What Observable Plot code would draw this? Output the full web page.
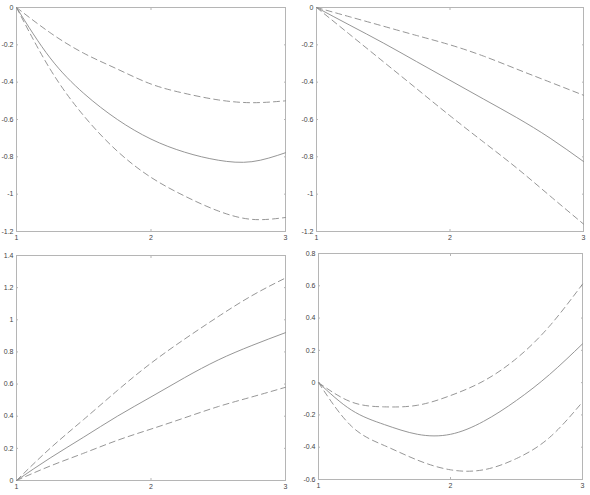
<!DOCTYPE html>
<html>
<head>
<meta charset="utf-8">
<script src="https://cdn.jsdelivr.net/npm/d3@7"></script>
<script src="https://cdn.jsdelivr.net/npm/@observablehq/plot@0.6"></script>
<style>
  html, body { margin: 0; padding: 0; background: #fff; }
  #wrap { position: relative; width: 590px; height: 495px; font-family: "Liberation Sans", Arial, sans-serif; }
  .panel { position: absolute; }
</style>
</head>
<body>
<div id="wrap"></div>
<script>
// x sample positions (shared by all panels)
const xs = [1, 1.25, 1.5, 1.75, 2, 2.25, 2.5, 2.75, 3];
const xTicks = [1, 2, 3];

// Panel 1 (top-left)
const p1Solid = [0, -0.27, -0.46, -0.60, -0.705, -0.775, -0.818, -0.826, -0.778];
const p1Upper = [0, -0.135, -0.245, -0.33, -0.41, -0.46, -0.495, -0.51, -0.50];
const p1Lower = [0, -0.33, -0.58, -0.77, -0.91, -1.01, -1.09, -1.135, -1.125];
const p1YTicks = [-1.2, -1, -0.8, -0.6, -0.4, -0.2, 0];

// Panel 2 (top-right)
const p2Solid = [0, -0.095, -0.19, -0.29, -0.39, -0.49, -0.59, -0.70, -0.825];
const p2Upper = [0, -0.05, -0.10, -0.15, -0.20, -0.26, -0.33, -0.40, -0.47];
const p2Lower = [0, -0.145, -0.29, -0.435, -0.58, -0.72, -0.86, -1.01, -1.16];
const p2YTicks = [-1.2, -1, -0.8, -0.6, -0.4, -0.2, 0];

// Panel 3 (bottom-left)
const p3Solid = [0, 0.14, 0.27, 0.40, 0.52, 0.64, 0.75, 0.84, 0.92];
const p3Upper = [0, 0.20, 0.38, 0.56, 0.73, 0.88, 1.02, 1.15, 1.26];
const p3Lower = [0, 0.09, 0.17, 0.25, 0.32, 0.39, 0.46, 0.52, 0.58];
const p3YTicks = [0, 0.2, 0.4, 0.6, 0.8, 1, 1.2, 1.4];

// Panel 4 (bottom-right)
const p4Solid = [0, -0.17, -0.26, -0.32, -0.32, -0.24, -0.11, 0.05, 0.24];
const p4Upper = [0, -0.12, -0.15, -0.14, -0.08, 0.01, 0.15, 0.35, 0.61];
const p4Lower = [0, -0.27, -0.39, -0.48, -0.54, -0.54, -0.47, -0.34, -0.12];
const p4YTicks = [-0.6, -0.4, -0.2, 0, 0.2, 0.4, 0.6, 0.8];

const panels = [
  {solid: p1Solid, upper: p1Upper, lower: p1Lower, yTicks: p1YTicks, yDomain: [-1.2, 0],
   left: 0, top: 0, width: 290, height: 245, ml: 16, mt: 7, mr: 5, mb: 14},
  {solid: p2Solid, upper: p2Upper, lower: p2Lower, yTicks: p2YTicks, yDomain: [-1.2, 0],
   left: 295, top: 0, width: 293, height: 245, ml: 21, mt: 7, mr: 5, mb: 14},
  {solid: p3Solid, upper: p3Upper, lower: p3Lower, yTicks: p3YTicks, yDomain: [0, 1.4],
   left: 0, top: 248, width: 290, height: 246, ml: 16, mt: 7, mr: 5, mb: 14},
  {solid: p4Solid, upper: p4Upper, lower: p4Lower, yTicks: p4YTicks, yDomain: [-0.6, 0.8],
   left: 295, top: 246, width: 292, height: 247, ml: 23, mt: 7, mr: 5, mb: 14}
];

const lineColor = "#8a8a8a";
const axisColor = "#b5b5b5";
const fmt = d => String(d);

const wrap = document.getElementById("wrap");
for (const p of panels) {
  const rows = (arr) => xs.map((x, i) => ({x, y: arr[i]}));
  const chart = Plot.plot({
    width: p.width,
    height: p.height,
    marginLeft: p.ml,
    marginTop: p.mt,
    marginRight: p.mr,
    marginBottom: p.mb,
    style: {fontFamily: "'Liberation Sans', Arial, sans-serif", fontSize: "7px", color: "#444", background: "transparent", overflow: "visible"},
    x: {domain: [1, 3]},
    y: {domain: p.yDomain},
    marks: [
      Plot.frame({stroke: axisColor, strokeWidth: 1}),
      Plot.axisY({anchor: "left", ticks: p.yTicks, tickSize: 0, tickPadding: 3, tickFormat: fmt, label: null}),
      Plot.axisY({anchor: "left", ticks: p.yTicks, tickSize: -2, fill: "none", stroke: axisColor, label: null}),
      Plot.axisY({anchor: "right", ticks: p.yTicks, tickSize: -2, fill: "none", stroke: axisColor, label: null}),
      Plot.axisX({anchor: "bottom", ticks: xTicks, tickSize: 0, tickPadding: 4, tickFormat: fmt, label: null}),
      Plot.axisX({anchor: "bottom", ticks: xTicks, tickSize: -2, fill: "none", stroke: axisColor, label: null}),
      Plot.axisX({anchor: "top", ticks: xTicks, tickSize: -2, fill: "none", stroke: axisColor, label: null}),
      Plot.line(rows(p.upper), {x: "x", y: "y", curve: "natural", stroke: lineColor, strokeWidth: 0.9, strokeDasharray: "6,4"}),
      Plot.line(rows(p.lower), {x: "x", y: "y", curve: "natural", stroke: lineColor, strokeWidth: 0.9, strokeDasharray: "6,4"}),
      Plot.line(rows(p.solid), {x: "x", y: "y", curve: "natural", stroke: lineColor, strokeWidth: 0.9})
    ]
  });
  const div = document.createElement("div");
  div.className = "panel";
  div.style.left = p.left + "px";
  div.style.top = p.top + "px";
  div.appendChild(chart);
  wrap.appendChild(div);
}
</script>
</body>
</html>
